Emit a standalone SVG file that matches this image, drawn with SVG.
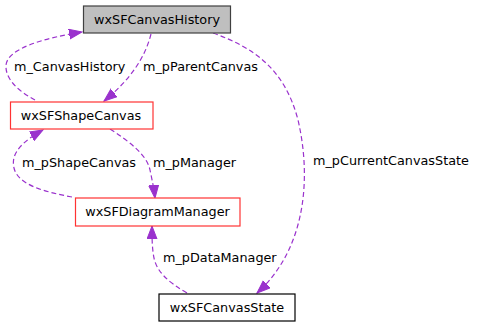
<svg xmlns="http://www.w3.org/2000/svg" width="477" height="328" viewBox="0 0 477 328">
  <style>
    .node rect { stroke-width: 1.2; }
    .plain rect { fill: #ffffff; stroke: #000000; }
    .red rect { fill: #ffffff; stroke: #ff3333; }
    .current rect { fill: #bfbfbf; stroke: #404040; }
    text { font-family: "DejaVu Sans", "Liberation Sans", sans-serif; font-size: 12.8px; fill: #000000; }
    .node text { text-anchor: middle; }
    .edge { fill: none; stroke: #9a32cd; stroke-width: 1.2; stroke-dasharray: 5,3; marker-end: url(#arrow); }
  </style>
  <defs>
    <marker id="arrow" markerUnits="userSpaceOnUse" markerWidth="14" markerHeight="12" refX="13" refY="5.5" orient="auto">
      <path d="M0,0.5 L13,5.5 L0,10.5 Z" fill="#9a32cd" stroke="#9a32cd" stroke-width="1"/>
    </marker>
  </defs>
  <rect width="477" height="328" fill="#ffffff"/>

  <g id="connectors">
    <path class="edge" d="M35,100 C20,92 5,80 6,65 C8,48 45,38 82,32"/>
    <text x="14" y="71">m_CanvasHistory</text>
    <path class="edge" d="M151,34 C145,58 130,80 104,101"/>
    <text x="143" y="71">m_pParentCanvas</text>
    <path class="edge" d="M213,33 C255,48 285,70 298,120 C312,180 305,250 257,293"/>
    <text x="313" y="165">m_pCurrentCanvasState</text>
    <path class="edge" d="M72,197 C45,192 18,185 14,168 C10,152 25,140 43,130"/>
    <text x="22" y="167">m_pShapeCanvas</text>
    <path class="edge" d="M110,129 C130,142 147,155 150,170 C152,180 154,188 155,198"/>
    <text x="153" y="167">m_pManager</text>
    <path class="edge" d="M187,293 C168,282 157,272 154,258 C152,248 152,238 152,226"/>
    <text x="163" y="262">m_pDataManager</text>
  </g>

  <g id="wxSFCanvasHistory" class="node current">
    <rect x="83.5" y="6" width="147" height="27"/>
    <text x="157" y="24">wxSFCanvasHistory</text>
  </g>
  <g id="wxSFShapeCanvas" class="node red">
    <rect x="10.5" y="102" width="142.5" height="27"/>
    <text x="81" y="120">wxSFShapeCanvas</text>
  </g>
  <g id="wxSFDiagramManager" class="node red">
    <rect x="75.5" y="198" width="164.5" height="28"/>
    <text x="157.5" y="216">wxSFDiagramManager</text>
  </g>
  <g id="wxSFCanvasState" class="node plain">
    <rect x="159" y="294" width="136" height="27"/>
    <text x="227" y="312">wxSFCanvasState</text>
  </g>
</svg>
